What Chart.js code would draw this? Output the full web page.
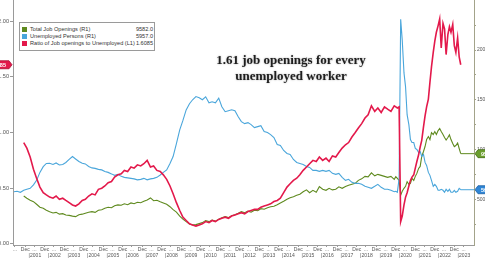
<!DOCTYPE html>
<html>
<head>
<meta charset="utf-8">
<script src="https://cdn.jsdelivr.net/npm/chart.js@4.4.0/dist/chart.umd.min.js"></script>
<style>
html, body { margin: 0; padding: 0; background: #fff; overflow: hidden; width: 485px; height: 260px; }
#wrap { position: absolute; left: -17px; top: 0; width: 521px; height: 260px; }
#legend { position: absolute; left: 19px; top: 22px; width: 131px; padding: 3px 1px 3px 2px; border: 1px solid #9a9a9a; background: #fff;
  font: 5.6px "Liberation Sans", Arial, sans-serif; color: #333; line-height: 7px; }
#legend .row { display: flex; align-items: center; white-space: nowrap; }
#legend .sw { width: 5px; height: 5px; margin-right: 3px; flex: none; }
#legend .name { flex: 1; }
#note { position: absolute; left: 196px; top: 52px; width: 190px; text-align: center;
  font: bold 13px "Liberation Serif", "DejaVu Serif", serif; line-height: 16px; color: #1e1e1e;
  text-shadow: 0 0 2px rgba(0,0,0,0.35); }
</style>
</head>
<body>
<div id="wrap"><canvas id="chart" width="521" height="260"></canvas></div>
<div id="legend"></div>
<div id="note">1.61 job openings for every<br>unemployed worker</div>
<script>
// dates as decimal years (Jan = .00, Dec = .92)
const dates = [
  2000.42, 2000.58, 2000.75, 2000.92,
  2001.08, 2001.25, 2001.42, 2001.58, 2001.75, 2001.92,
  2002.08, 2002.25, 2002.42, 2002.58, 2002.75, 2002.92,
  2003.08, 2003.25, 2003.42, 2003.58, 2003.75, 2003.92,
  2004.08, 2004.25, 2004.42, 2004.58, 2004.75, 2004.92,
  2005.08, 2005.25, 2005.42, 2005.58, 2005.75, 2005.92,
  2006.08, 2006.25, 2006.42, 2006.58, 2006.75, 2006.92,
  2007.08, 2007.25, 2007.42, 2007.58, 2007.75, 2007.92,
  2008.08, 2008.25, 2008.42, 2008.58, 2008.75, 2008.92,
  2009.08, 2009.25, 2009.42, 2009.58, 2009.75, 2009.92,
  2010.08, 2010.25, 2010.42, 2010.58, 2010.75, 2010.92,
  2011.08, 2011.25, 2011.42, 2011.58, 2011.75, 2011.92,
  2012.08, 2012.25, 2012.42, 2012.58, 2012.75, 2012.92,
  2013.08, 2013.25, 2013.42, 2013.58, 2013.75, 2013.92,
  2014.08, 2014.25, 2014.42, 2014.58, 2014.75, 2014.92,
  2015.08, 2015.25, 2015.42, 2015.58, 2015.75, 2015.92,
  2016.08, 2016.25, 2016.42, 2016.58, 2016.75, 2016.92,
  2017.08, 2017.25, 2017.42, 2017.58, 2017.75, 2017.92,
  2018.08, 2018.25, 2018.42, 2018.58, 2018.75, 2018.92,
  2019.08, 2019.25, 2019.42, 2019.58, 2019.75, 2019.92,
  2020.00, 2020.08, 2020.17, 2020.25, 2020.33, 2020.42, 2020.50, 2020.58, 2020.67, 2020.75, 2020.83, 2020.92,
  2021.00, 2021.08, 2021.17, 2021.25, 2021.33, 2021.42, 2021.50, 2021.58, 2021.67, 2021.75, 2021.83, 2021.92,
  2022.00, 2022.08, 2022.17, 2022.25, 2022.33, 2022.42, 2022.50, 2022.58, 2022.67, 2022.75, 2022.83, 2022.92,
  2023.00, 2023.08, 2023.17, 2023.25, 2023.33
];

// Ratio of job openings to unemployed (left axis)
const ratio = [
  null, null, null, 0.91,
  0.86, 0.78, 0.67, 0.59, 0.51, 0.46,
  0.44, 0.42, 0.41, 0.43, 0.40, 0.41,
  0.39, 0.37, 0.35, 0.34, 0.36, 0.39,
  0.40, 0.43, 0.45, 0.44, 0.49, 0.50,
  0.52, 0.55, 0.56, 0.60, 0.62, 0.63,
  0.66, 0.65, 0.69, 0.68, 0.71, 0.70,
  0.72, 0.75, 0.69, 0.70, 0.66, 0.65,
  0.62, 0.58, 0.52, 0.45, 0.37, 0.30,
  0.24, 0.21, 0.18, 0.17, 0.16, 0.17,
  0.18, 0.20, 0.19, 0.21, 0.20, 0.22,
  0.23, 0.24, 0.23, 0.25, 0.26, 0.27,
  0.28, 0.27, 0.29, 0.30, 0.31, 0.31,
  0.33, 0.34, 0.35, 0.36, 0.38, 0.39,
  0.41, 0.46, 0.51, 0.54, 0.57, 0.59,
  0.62, 0.66, 0.69, 0.72, 0.75, 0.74,
  0.78, 0.75, 0.77, 0.74, 0.79, 0.78,
  0.82, 0.86, 0.89, 0.91, 0.96, 1.00,
  1.04, 1.08, 1.13, 1.16, 1.24, 1.19,
  1.22, 1.18, 1.23, 1.21, 1.19, 1.24,
  1.23, 1.22, 1.23, 0.20, 0.25, 0.35, 0.42, 0.46, 0.52, 0.57, 0.60, 0.62,
  0.68, 0.74, 0.80, 0.87, 0.93, 1.05, 1.15, 1.23, 1.30, 1.45, 1.59, 1.72,
  1.82, 1.90, 1.96, 2.02, 1.76, 1.98, 1.93, 1.70, 1.88, 1.95, 1.90, 1.97,
  1.78, 1.72, 1.85, 1.68, 1.6085
];

// Total job openings, thousands (right axis)
const openings = [
  null, null, null, 5330,
  5100, 4900, 4760, 4500, 4200, 4100,
  3900, 3750, 3620, 3680, 3500, 3550,
  3420, 3380, 3300, 3250, 3450, 3500,
  3600, 3700, 3750, 3680, 3900, 3950,
  4100, 4200, 4150, 4350, 4430, 4400,
  4550, 4450, 4630, 4550, 4700, 4650,
  4800, 4930, 5130, 4850, 4900, 4750,
  4630, 4500, 4250, 3950, 3700, 3300,
  3000, 2750, 2500, 2410, 2450, 2550,
  2650, 2850, 2750, 2900, 2800, 3000,
  3150, 3250, 3150, 3350, 3450, 3600,
  3750, 3650, 3800, 3700, 3900, 3850,
  4050, 4000, 4150, 4250, 4300, 4450,
  4630, 4800, 5000, 5150, 5260, 5400,
  5500, 5750, 5940, 5650, 5900, 5700,
  6270, 6000, 5900, 6100, 5940, 6000,
  6250, 6100, 6270, 6400, 6500, 6600,
  6900, 7050, 7300, 7250, 7650, 7350,
  7500, 7400, 7300, 7200, 7300, 7000,
  7270, 7100, 6900, 5400, 5800, 6100, 6300, 6770, 6500, 6600, 7100, 6900,
  7300, 7600, 8100, 8300, 9300, 9800, 10300, 11000, 11300, 11000, 11700, 11500,
  11800, 11500, 11900, 12100, 11800, 11500, 11200, 10960, 11200, 11470, 11000, 10600,
  10290, 10400, 10660, 10100, 9582
];

// Unemployed persons, thousands (right axis)
const unemployed = [
  5750, 5800, 5700, 5900,
  6000, 6100, 6440, 6900, 7700, 8280,
  8600, 8620, 8500, 8650, 8450, 8500,
  8700, 9000, 9290, 9050, 8800, 8620,
  8550, 8300, 8150, 8100, 8000, 7950,
  7780, 7700, 7550, 7400, 7500, 7300,
  7200, 7150, 7100, 7050, 6950, 7000,
  7100, 6950, 7050, 7100, 7200, 7440,
  7700, 7950, 8600, 9290, 10600, 11970,
  12900, 13980, 14600, 15000, 15320, 15200,
  15000, 15300, 14700, 14800, 14700, 15160,
  14300, 13800, 13900, 14000, 13900, 13300,
  12800, 12600, 12700, 12500, 12200, 12300,
  12400, 11800, 11700, 11500, 11200, 10500,
  10400, 9900, 9600, 9500, 9000, 8700,
  8600, 8500, 8300, 8200, 7900, 7900,
  7800, 7900, 7800, 7900, 7600, 7500,
  7600, 7200, 6900, 7000, 6700, 6600,
  6600, 6500, 6300, 6200, 6100, 6300,
  6500, 6200, 6000, 6000, 5900, 5750,
  5800, 5700, 7100, 23100, 21000, 17700, 16300, 13500, 12500, 11000, 10700, 10700,
  10100, 10000, 9700, 9800, 9300, 9500, 8700, 8400, 7700, 7400, 6900, 6300,
  6500, 6300, 5900, 5900, 6000, 5900, 5700, 6000, 5800, 6000, 5700, 5700,
  5900, 5700, 5800, 6100, 5957
];

// axis labels
const years = [2001, 2002, 2003, 2004, 2005, 2006, 2007, 2008, 2009, 2010, 2011, 2012,
  2013, 2014, 2015, 2016, 2017, 2018, 2019, 2020, 2021, 2022, 2023];
const leftTicks = [0, 0.5, 1, 1.5, 2];
const rightTicks = [2500, 5000, 7500, 10000, 12500, 15000, 17500, 20000, 22500];

const RED = '#e3194b';
const BLUE = '#4aa6db';
const GREEN = '#5f8a1f';

const series = [
  { label: 'Total Job Openings (R1)', data: openings, color: GREEN, axis: 'y1', last: '9582.0', tag: '#6b9e2e', tagLine: '#3f6a12' },
  { label: 'Unemployed Persons (R1)', data: unemployed, color: BLUE, axis: 'y1', last: '5957.0', tag: '#2f86d6', tagLine: '#1d5fa3' },
  { label: 'Ratio of Job openings to Unemployed (L1)', data: ratio, color: RED, axis: 'y', last: '1.6085', tag: '#e3194b', tagLine: '#a80f33' }
];

const toPoints = vals => dates.map((d, i) => ({ x: d, y: vals[i] }));

// legend box
const legend = document.getElementById('legend');
legend.innerHTML = series.map(s => `
  <div class="row"><span class="sw" style="background:${s.color}"></span>
  <span class="name">${s.label}</span><span>${s.last}</span></div>`).join('');

// month row: "..." mid-year, "Dec" at the year change
const monthTickVals = [];
const monthTickText = [];
monthTickVals.push(2000.47); monthTickText.push('...');
years.forEach(y => {
  monthTickVals.push(y); monthTickText.push('Dec');
  monthTickVals.push(y + 0.47); monthTickText.push('...');
});

// year row with separators
const yearTickVals = [];
const yearTickText = [];
years.forEach(y => {
  yearTickVals.push(y + 0.2); yearTickText.push('|');
  yearTickVals.push(y + 0.53); yearTickText.push(String(y));
});

function drawTag(ctx, x, y, text, fill, stroke, side) {
  ctx.save();
  ctx.font = 'bold 5.6px "Liberation Sans", Arial, sans-serif';
  const w = ctx.measureText(text).width + 6;
  const h = 8;
  ctx.beginPath();
  if (side === 'right') {
    ctx.moveTo(x, y);
    ctx.lineTo(x + 3, y - h / 2);
    ctx.lineTo(x + w + 3, y - h / 2);
    ctx.arcTo(x + w + 5, y - h / 2, x + w + 5, y, 2);
    ctx.arcTo(x + w + 5, y + h / 2, x + w + 3, y + h / 2, 2);
    ctx.lineTo(x + 3, y + h / 2);
  } else {
    ctx.moveTo(x, y);
    ctx.lineTo(x - 3, y - h / 2);
    ctx.lineTo(x - w - 3, y - h / 2);
    ctx.arcTo(x - w - 5, y - h / 2, x - w - 5, y, 2);
    ctx.arcTo(x - w - 5, y + h / 2, x - w - 3, y + h / 2, 2);
    ctx.lineTo(x - 3, y + h / 2);
  }
  ctx.closePath();
  ctx.fillStyle = fill;
  ctx.fill();
  ctx.lineWidth = 0.8;
  ctx.strokeStyle = stroke;
  ctx.stroke();
  ctx.fillStyle = '#fff';
  ctx.textBaseline = 'middle';
  ctx.textAlign = 'center';
  const cx = side === 'right' ? x + 3 + w / 2 : x - 3 - w / 2;
  ctx.fillText(text, cx, y + 0.5);
  ctx.restore();
}

// last value lines and axis tags
const tagPlugin = {
  id: 'lastTags',
  afterDatasetsDraw(chart) {
    const { ctx, chartArea } = chart;
    chart.data.datasets.forEach((ds, i) => {
      const pts = chart.getDatasetMeta(i).data;
      const lastPt = pts[pts.length - 1];
      if (ds.yAxisID === 'y1') {
        ctx.save();
        ctx.strokeStyle = ds.borderColor;
        ctx.lineWidth = 1;
        ctx.beginPath();
        ctx.moveTo(lastPt.x, lastPt.y);
        ctx.lineTo(chartArea.right, lastPt.y);
        ctx.stroke();
        ctx.restore();
      }
    });
  },
  afterDraw(chart) {
    const { ctx, chartArea } = chart;
    chart.data.datasets.forEach(ds => {
      const s = series.find(q => q.label === ds.label);
      const scale = chart.scales[ds.yAxisID];
      const y = scale.getPixelForValue(s.data[s.data.length - 1]);
      if (ds.yAxisID === 'y1') {
        drawTag(ctx, chartArea.right + 1, y, s.last, s.tag, s.tagLine, 'right');
      } else {
        drawTag(ctx, chartArea.left - 1, y, s.last, s.tag, s.tagLine, 'left');
      }
    });
  }
};

const tickFont = { family: '"Liberation Sans", Arial, sans-serif', size: 5.6 };
const xFont = { family: '"Liberation Sans", Arial, sans-serif', size: 5 };
const AXIS = '#9a9a9a';

const chart = new Chart(document.getElementById('chart'), {
  type: 'line',
  data: {
    datasets: [series[2], series[1], series[0]].map(s => ({
      label: s.label,
      data: toPoints(s.data),
      yAxisID: s.axis,
      borderColor: s.color,
      borderWidth: s.axis === 'y' ? 1.6 : 1.1,
      pointRadius: 0,
      tension: 0,
      fill: false
    }))
  },
  options: {
    responsive: false,
    animation: false,
    events: [],
    layout: { padding: 0 },
    plugins: { legend: { display: false }, tooltip: { enabled: false } },
    scales: {
      x: {
        type: 'linear',
        position: 'bottom',
        weight: 1,
        min: 2000.37,
        max: 2024.01,
        grid: { drawOnChartArea: false, tickLength: 2, color: AXIS },
        border: { color: AXIS },
        ticks: {
          font: xFont, color: '#555', padding: 0, maxRotation: 0, autoSkip: false,
          callback: (v, i) => monthTickText[i]
        },
        afterBuildTicks: s => { s.ticks = monthTickVals.map(v => ({ value: v })); },
        afterFit: s => { s.height = 8; s.paddingLeft = 0; s.paddingRight = 0; }
      },
      x2: {
        type: 'linear',
        position: 'bottom',
        weight: 2,
        min: 2000.37,
        max: 2024.01,
        grid: { display: false, drawTicks: false, tickLength: 0 },
        border: { display: false },
        ticks: {
          font: xFont, color: '#555', padding: 0, maxRotation: 0, autoSkip: false,
          callback: (v, i) => yearTickText[i]
        },
        afterBuildTicks: s => { s.ticks = yearTickVals.map(v => ({ value: v })); },
        afterFit: s => { s.height = 7; s.paddingLeft = 0; s.paddingRight = 0; }
      },
      y: {
        position: 'left',
        min: -0.01,
        max: 2.19,
        grid: { drawOnChartArea: false, tickLength: 3, color: AXIS },
        border: { color: AXIS },
        ticks: { font: tickFont, color: '#555', padding: 1, callback: v => v.toFixed(2) },
        afterBuildTicks: s => { s.ticks = leftTicks.map(v => ({ value: v })); },
        afterFit: s => { s.width = 30; s.paddingTop = 0; s.paddingBottom = 0; }
      },
      y1: {
        position: 'right',
        min: 400,
        max: 25030,
        grid: { drawOnChartArea: false, tickLength: 2, color: '#a3a38a' },
        border: { color: '#a3a38a' },
        ticks: { font: { family: tickFont.family, size: 5 }, color: '#555', padding: 1, callback: v => (v % 5000 === 0 ? String(v) : '') },
        afterBuildTicks: s => { s.ticks = rightTicks.map(v => ({ value: v })); },
        afterFit: s => { s.width = 30; s.paddingTop = 0; s.paddingBottom = 0; }
      }
    }
  },
  plugins: [tagPlugin]
});
</script>
</body>
</html>
